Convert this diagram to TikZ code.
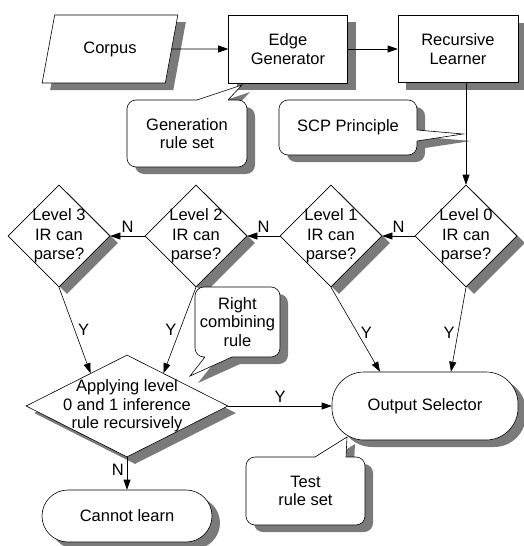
\documentclass[tikz,border=0pt]{standalone}
\usepackage{fontspec}
\setmainfont{Liberation Sans}
\usetikzlibrary{shapes,arrows.meta,calc}

\newcommand{\flowfont}{\fontsize{16.5}{18.5}\selectfont}
\definecolor{shadowgray}{HTML}{7A7A7A}

\tikzset{
  box/.style={draw, line width=0.6pt, fill=white, font=\flowfont, align=center, inner sep=0pt,
    preaction={fill=shadowgray, draw=none, transform canvas={xshift=8pt, yshift=-7pt}}},
  io/.style={box, trapezium, trapezium left angle=68, trapezium right angle=112,
    trapezium stretches=true, minimum width=136pt, minimum height=68pt},
  process/.style={box, rectangle, minimum width=119pt, minimum height=68pt},
  decision/.style={box, diamond, minimum width=102pt, minimum height=102pt},
  terminal/.style={box, rectangle, rounded corners=26pt},
  note/.style={box, rectangle, rounded corners=9pt},
  dtext/.style={font=\fontsize{16.5}{19.5}\selectfont, align=center, inner sep=0pt},
  flow/.style={line width=0.6pt, -{Triangle[length=10pt, width=7pt]}},
  tail/.style={line width=0.6pt},
  yn/.style={font=\flowfont, inner sep=3pt},
}

\begin{document}
\begin{tikzpicture}[x=1pt, y=-1pt]
\useasboundingbox (0,0) rectangle (523,546);

% top row
\node[io] (corpus) at (110,49) {Corpus};
\node[process] (edge) at (288,49) {Edge\\Generator};
\node[process, minimum width=120pt, minimum height=67pt] (learner) at (458,49) {Recursive\\Learner};

% decisions, level 0 on the right
\foreach \i/\x in {0/466,1/331,2/196,3/59} {
    \node[decision] (d\i) at (\x,236) {};
    \node[dtext] (t\i) at (d\i) {Level \i\\IR can\\parse?};
}
\node[decision, minimum width=202pt] (apply) at (127,406) {};
\node[dtext, font=\flowfont] (tapply) at (apply) {Applying level\\0 and 1 inference\\rule recursively};

% end points
\node[terminal, minimum width=186pt, minimum height=68pt, rounded corners=32pt] (output) at (425,406) {Output Selector};
\node[terminal, minimum width=170pt, minimum height=52pt] (cannot) at (127,516) {Cannot learn};

% callouts
\fill[shadowgray] (205,107) -- (250,92) -- (236,107) -- cycle;
\node[note, minimum width=120pt, minimum height=67pt] (gen) at (187,133.5) {Generation\\rule set};
\fill[white] (197,102) -- (197,100) -- (242,85) -- (228,100) -- (228,102) -- cycle;
\draw[tail] (197,100) -- (242,85) -- (228,100);

\fill[shadowgray] (425,137) -- (471,141) -- (425,148) -- cycle;
\node[note, minimum width=138pt, minimum height=55pt] (scp) at (348,127.5) {SCP Principle};
\fill[white] (415,130) -- (417,130) -- (463,134) -- (417,141) -- (415,141) -- cycle;
\draw[tail] (417,130) -- (463,134) -- (417,141);

\fill[shadowgray] (213,364) -- (198,383) -- (240,364) -- cycle;
\node[note, minimum width=85pt, minimum height=70pt] (rcomb) at (237.5,322) {Right\\combining\\rule};
\fill[white] (205,355) -- (205,357) -- (190,376) -- (232,357) -- (232,355) -- cycle;
\draw[tail] (205,357) -- (190,376) -- (232,357);

\fill[shadowgray] (323,464) -- (355,444) -- (354,464) -- cycle;
\node[note, minimum width=119pt, minimum height=68pt] (test) at (305.5,491) {Test\\rule set};
\fill[white] (315,459) -- (315,457) -- (347,437) -- (346,457) -- (346,459) -- cycle;
\draw[tail] (315,457) -- (347,437) -- (346,457);

% connectors
\draw[flow] (corpus) -- (edge);
\draw[flow] (edge) -- (learner);
\draw[flow] (d0.north |- learner.south) -- (d0.north);
\draw[flow] (d0) -- node[yn, above] {N} (d1);
\draw[flow] (d1) -- node[yn, above] {N} (d2);
\draw[flow] (d2) -- node[yn, above] {N} (d3);
\draw[flow] (d3.south) -- node[yn, right] {Y} ($(apply.north)!0.36!(apply.west)$);
\draw[flow] (d2.south) -- node[yn, left] {Y} ($(apply.north)!0.36!(apply.east)$);
\draw[flow] (d1.south) -- node[yn, right, pos=0.54] {Y} ($(output.north)+(-45,0)$);
\draw[flow] (d0.south) -- node[yn, left, pos=0.54] {Y} ($(output.north)+(26,0)$);
\draw[flow] (apply) -- node[yn, above] {Y} (output);
\draw[flow] (apply) -- node[yn, left, pos=0.4] {N} (cannot);
\end{tikzpicture}
\end{document}
